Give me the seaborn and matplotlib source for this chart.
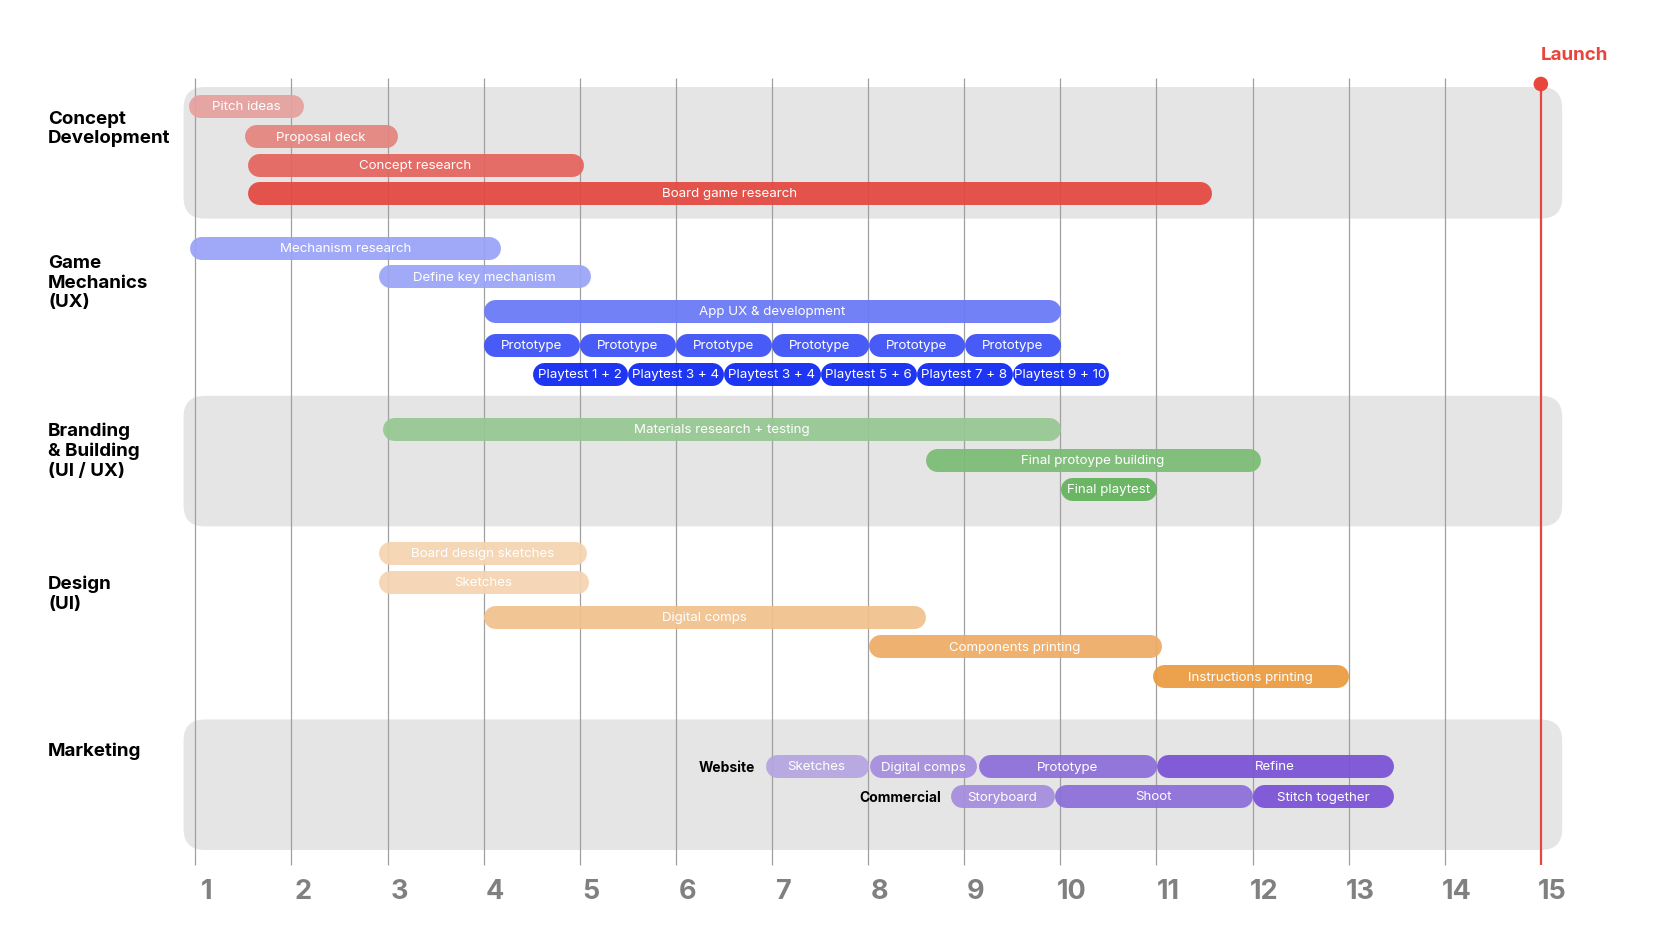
import matplotlib
matplotlib.use("Agg")
import matplotlib.pyplot as plt
from matplotlib.patches import FancyBboxPatch
import seaborn as sns
import pandas as pd

# ---------------- data ----------------
concept_tasks = ["Pitch ideas", "Proposal deck", "Concept research", "Board game research"]
concept_start = [0.93, 1.51, 1.54, 1.54]
concept_end = [2.13, 3.10, 5.04, 11.57]

mech_tasks = ["Mechanism research", "Define key mechanism", "App UX & development",
              "Prototype", "Prototype", "Prototype", "Prototype", "Prototype", "Prototype",
              "Playtest 1 + 2", "Playtest 3 + 4", "Playtest 3 + 4", "Playtest 5 + 6",
              "Playtest 7 + 8", "Playtest 9 + 10"]
mech_start = [0.94, 2.91, 4.0, 4.0, 5.0, 6.0, 7.0, 8.0, 9.0, 4.51, 5.5, 6.5, 7.5, 8.5, 9.5]
mech_end = [4.18, 5.11, 10.0, 5.0, 6.0, 7.0, 8.0, 9.0, 10.0, 5.5, 6.5, 7.5, 8.5, 9.5, 10.5]

brand_tasks = ["Materials research + testing", "Final protoype building", "Final playtest"]
brand_start = [2.95, 8.60, 10.0]
brand_end = [10.0, 12.08, 11.0]

design_tasks = ["Board design sketches", "Sketches", "Digital comps",
                "Components printing", "Instructions printing"]
design_start = [2.91, 2.91, 4.0, 8.0, 10.96]
design_end = [5.07, 5.09, 8.6, 11.05, 13.0]

web_tasks = ["Sketches", "Digital comps", "Prototype", "Refine"]
web_start = [6.93, 8.02, 9.15, 11.0]
web_end = [8.0, 9.13, 11.0, 13.47]

comm_tasks = ["Storyboard", "Shoot", "Stitch together"]
comm_start = [8.86, 9.94, 12.0]
comm_end = [9.94, 12.0, 13.47]

group_labels = ["Concept\nDevelopment", "Game\nMechanics\n(UX)", "Branding\n& Building\n(UI / UX)",
                "Design\n(UI)", "Marketing"]
sub_labels = ["Website", "Commercial"]
tick_labels = [str(i) for i in range(1, 16)]
launch_week = 15
launch_label = "Launch"

# ---------------- styles / layout ----------------
concept_colors = ["#E6A09E", "#E4847F", "#E5645D", "#E4483F"]
mech_colors = ["#99A3F7", "#9AA4F7", "#6878F6"] + ["#3A4EF6"] * 6 + ["#0D25F2"] * 6
brand_colors = ["#96C791", "#7CBD74", "#62B35A"]
design_colors = ["#F5D4B1", "#F5D3B1", "#F1C18D", "#EDAB64", "#EB9B3E"]
web_colors = ["#B5A6E0", "#A58DDE", "#8C6ED9", "#7B52D6"]
comm_colors = ["#A58DDE", "#8C6ED9", "#7B52D6"]

concept_y = [106, 136, 164.5, 193]
mech_y = [247.5, 276, 311, 345, 345, 345, 345, 345, 345, 373.5, 373.5, 373.5, 373.5, 373.5, 373.5]
brand_y = [429, 459.5, 489]
design_y = [553, 581.5, 616.5, 646, 676]
web_y = [766] * 4
comm_y = [796] * 3

frames = []
for t, s, e, y, c in [
    (concept_tasks, concept_start, concept_end, concept_y, concept_colors),
    (mech_tasks, mech_start, mech_end, mech_y, mech_colors),
    (brand_tasks, brand_start, brand_end, brand_y, brand_colors),
    (design_tasks, design_start, design_end, design_y, design_colors),
    (web_tasks, web_start, web_end, web_y, web_colors),
    (comm_tasks, comm_start, comm_end, comm_y, comm_colors),
]:
    frames.append(pd.DataFrame({"task": t, "start": s, "end": e, "y": y, "color": c}))
df = pd.concat(frames, ignore_index=True)

W, H, DPI = 1664, 932, 100
PX_PER_WEEK = 96.11
X0_PX = 195.3
BAR_H = 23.0

sns.set_theme(style="white")
plt.rcParams["font.family"] = ["Inter", "DejaVu Sans"]

fig = plt.figure(figsize=(W / DPI, H / DPI), dpi=DPI)
ax = fig.add_axes([0, 0, 1, 1])
ax.set_xlim(1 - X0_PX / PX_PER_WEEK, 1 + (W - X0_PX) / PX_PER_WEEK)
ax.set_ylim(H, 0)
ax.axis("off")

# background bands
band_x0, band_x1 = 0.878, 15.222
for y0, y1 in [(87, 218.6), (395.8, 526.4), (719.5, 850)]:
    p = FancyBboxPatch((band_x0, y0), band_x1 - band_x0, y1 - y0,
                       boxstyle="round,pad=0,rounding_size=0.22",
                       mutation_aspect=PX_PER_WEEK,
                       fc="#E5E5E5", ec="none", zorder=0)
    ax.add_patch(p)

# grid lines
weeks = list(range(1, 15))
ax.vlines(weeks, 77.5, 865, color="#A0A0A0", lw=0.9, zorder=1)

# bars (round capped thick lines)
r = (BAR_H / 2) / PX_PER_WEEK
lw_pt = BAR_H * 72 / DPI
for _, row in df.iterrows():
    ax.plot([row.start + r, row.end - r], [row.y, row.y], color=row.color,
            lw=lw_pt, solid_capstyle="round", alpha=0.93, zorder=2)
    ax.text((row.start + row.end) / 2, row.y + 1.5, row.task, color="white",
            ha="center", va="center", fontsize=9.6, zorder=4)

# launch line & dot
ax.vlines([launch_week], 84, 865, color="#E8463D", lw=1.6, zorder=3)
sns.scatterplot(x=[launch_week], y=[84], color="#E8463D", s=110, ax=ax,
                edgecolor="none", zorder=5, legend=False)
ax.text(launch_week + 0.345, 56, launch_label, color="#E8463D", fontsize=13.5,
        fontweight="bold", ha="center", va="center")

# group labels
for lbl, yc in zip(group_labels, [129, 283, 451, 594, 751]):
    ax.text(1 - (X0_PX - 48) / PX_PER_WEEK, yc, lbl, ha="left", va="center",
            fontsize=13.5, fontweight="bold", color="black", linespacing=1.22)

# sub labels
for lbl, xr, yc in zip(sub_labels, [6.82, 8.76], [768, 798]):
    ax.text(xr, yc, lbl, ha="right", va="center", fontsize=10, fontweight="bold", color="black")

# tick labels
for w, lbl in zip(range(1, 16), tick_labels):
    ax.text(w + 0.12, 892, lbl, ha="center", va="center", fontsize=19.5,
            fontweight="bold", color="#808080")

fig.savefig("out.png", dpi=DPI)
